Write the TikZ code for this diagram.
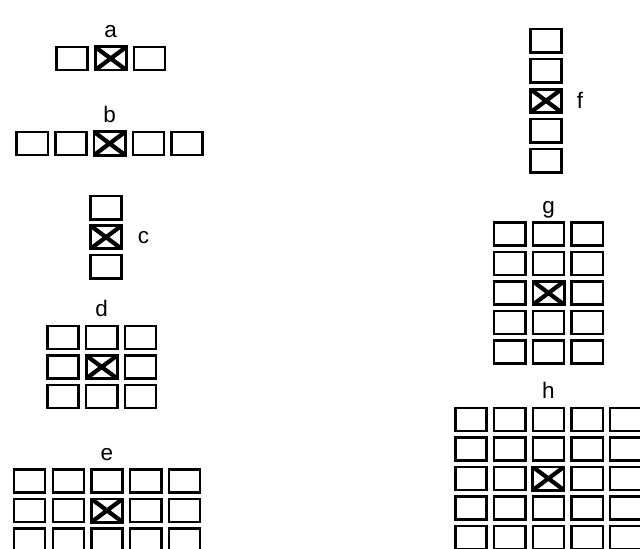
\documentclass[tikz,border=0pt]{standalone}
\usepackage{fontspec}
\setmainfont{Liberation Sans}
\usetikzlibrary{positioning}

\begin{document}
\begin{tikzpicture}[
    x=0.5mm, y=-0.5mm,
    cell/.style={rectangle, draw=black, line width=1.2mm, minimum width=15.6mm,
      minimum height=11.6mm, inner sep=0pt},
    hit/.style={cell, line width=1.4mm, fill=white,
      path picture={\draw[line width=2.1mm]
        (path picture bounding box.north west) -- (path picture bounding box.south east)
        (path picture bounding box.north east) -- (path picture bounding box.south west);}},
    lab/.style={font=\fontsize{32}{38}\selectfont, inner sep=0pt}
  ]
  \clip (0,0) rectangle (640,549);
  % Grid a: one row of 3
  \foreach \c in {1,...,3}
    \node[cell] (a\c) at ({72+(\c-1)*38.7}, 58.5) {};
  \node[hit] (ax) at (a2) {};
  \node[lab, above=4mm of a2, anchor=base] (la) {a};
  % Grid b: one row of 5
  \foreach \c in {1,...,5}
    \node[cell] (b\c) at ({32.2+(\c-1)*38.7}, 143.5) {};
  \node[hit] (bx) at (b3) {};
  \node[lab, above=4mm of b3, anchor=base] (lb) {b};
  % Grid c: one column of 3
  \foreach \r in {1,...,3}
    \node[cell] (c\r) at (106, {207.7+(\r-1)*29.5}) {};
  \node[hit] (cx) at (c2) {};
  \node[lab, right=7.5mm of c2] (lc) {c};
  % Grid d: 3 x 3
  \foreach \r in {1,...,3}
    \foreach \c in {1,...,3}
      \node[cell] (d\r\c) at ({63+(\c-1)*38.7}, {337.5+(\r-1)*29.5}) {};
  \node[hit] (dx) at (d22) {};
  \node[lab, above=4mm of d12, anchor=base] (ld) {d};
  % Grid e: 3 rows of 5
  \foreach \r in {1,...,3}
    \foreach \c in {1,...,5}
      \node[cell] (e\r\c) at ({29.6+(\c-1)*38.7}, {481+(\r-1)*29.5}) {};
  \node[hit] (ex) at (e23) {};
  \node[lab, above=4mm of e13, anchor=base] (le) {e};
  % Grid f: one column of 5
  \foreach \r in {1,...,5}
    \node[cell] (f\r) at (546, {40.8+(\r-1)*30}) {};
  \node[hit] (fx) at (f3) {};
  \node[lab, right=7mm of f3] (lf) {f};
  % Grid g: 5 rows of 3
  \foreach \r in {1,...,5}
    \foreach \c in {1,...,3}
      \node[cell] (g\r\c) at ({509.8+(\c-1)*38.7}, {234+(\r-1)*29.5}) {};
  \node[hit] (gx) at (g32) {};
  \node[lab, above=4mm of g12, anchor=base] (lg) {g};
  % Grid h: 5 x 5
  \foreach \r in {1,...,5}
    \foreach \c in {1,...,5}
      \node[cell] (h\r\c) at ({471+(\c-1)*38.7}, {419.5+(\r-1)*29.5}) {};
  \node[hit] (hx) at (h33) {};
  \node[lab, above=4mm of h13, anchor=base] (lh) {h};
\end{tikzpicture}
\end{document}
